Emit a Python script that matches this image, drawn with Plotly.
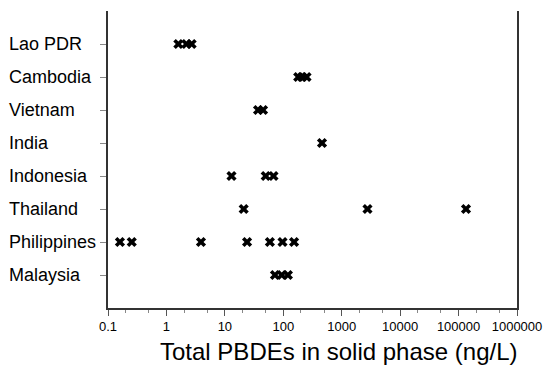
import plotly.graph_objects as go

countries = ["Malaysia", "Philippines", "Thailand", "Indonesia", "India", "Vietnam", "Cambodia", "Lao PDR"]

lao = [1.6, 2.2, 2.7]
cambodia = [180, 210, 250]
vietnam = [37, 45]
india = [460]
indonesia = [13, 50, 68]
thailand = [21, 2760, 134000]
philippines = [0.16, 0.255, 3.9, 24, 59, 97, 153]
malaysia = [72, 94, 120]

series = {
    "Malaysia": malaysia,
    "Philippines": philippines,
    "Thailand": thailand,
    "Indonesia": indonesia,
    "India": india,
    "Vietnam": vietnam,
    "Cambodia": cambodia,
    "Lao PDR": lao,
}

x_tickvals = [0.1, 1, 10, 100, 1000, 10000, 100000, 1000000]
x_ticktext = ["0.1", "1", "10", "100", "1000", "10000", "100000", "1000000"]
x_title = "Total PBDEs in solid phase (ng/L)"

xs, ys = [], []
for i, c in enumerate(countries):
    for v in series[c]:
        xs.append(v)
        ys.append(i + 1)

fig = go.Figure()
fig.add_trace(go.Scatter(
    x=xs, y=ys, mode="markers",
    marker=dict(symbol="x", size=9, color="black", line=dict(width=0)),
    showlegend=False, hoverinfo="skip",
))
# invisible trace on a right-side overlay axis to draw the right border line
fig.add_trace(go.Scatter(x=[1], y=[1], yaxis="y2", mode="markers",
                         marker=dict(opacity=0), showlegend=False, hoverinfo="skip"))

# left-aligned category labels
annotations = []
for i, c in enumerate(countries):
    annotations.append(dict(
        text=c, xref="paper", yref="y", x=0, y=i + 1,
        xanchor="left", yanchor="middle", xshift=-101, showarrow=False,
        font=dict(size=18, color="black"),
    ))
annotations.append(dict(
    text=x_title, xref="paper", yref="paper", x=0.565, y=-0.146,
    xanchor="center", yanchor="middle", showarrow=False,
    font=dict(size=24, color="black"),
))

fig.update_layout(
    width=545, height=365,
    margin=dict(l=108, r=28, t=11, b=57),
    paper_bgcolor="white", plot_bgcolor="white",
    font=dict(family="Liberation Sans, Arial, sans-serif", color="black"),
    annotations=annotations,
    xaxis=dict(
        type="log", range=[-1, 6], automargin=False,
        tickvals=x_tickvals, ticktext=x_ticktext,
        ticks="outside", ticklen=6, tickcolor="#555", tickwidth=1,
        showline=True, linecolor="#333", linewidth=1.5,
        showgrid=False, zeroline=False,
        tickfont=dict(size=13),
        minor=dict(ticks="outside", ticklen=3, tickcolor="#888", showgrid=False),
    ),
    yaxis=dict(
        range=[0, 9], automargin=False,
        tickvals=list(range(1, len(countries) + 1)),
        showticklabels=False,
        ticks="outside", ticklen=6, tickcolor="#888", tickwidth=1,
        showline=True, linecolor="#333", linewidth=1.5,
        showgrid=False, zeroline=False,
    ),
    yaxis2=dict(
        overlaying="y", side="right", range=[0, 9], automargin=False,
        showline=True, linecolor="#333", linewidth=1.5,
        showticklabels=False, ticks="", showgrid=False, zeroline=False,
    ),
)

fig.write_html(
    "out.html",
    config={"displayModeBar": False},
    post_script="document.body.style.margin='0';document.body.style.overflow='hidden';",
)
